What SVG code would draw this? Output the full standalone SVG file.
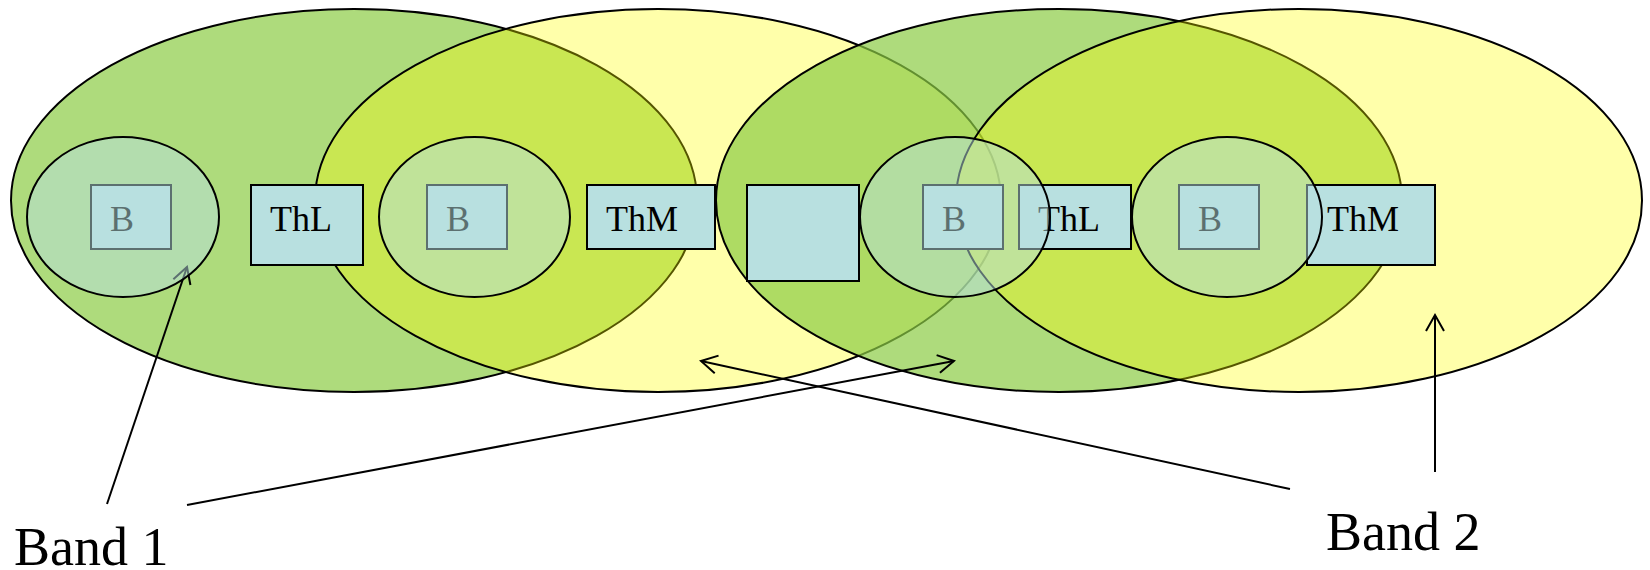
<svg xmlns="http://www.w3.org/2000/svg" width="1650" height="570" viewBox="0 0 1650 570">
<style>
.green{fill:#8ccc44;fill-opacity:0.7;stroke:#000;stroke-width:2}
.yellow{fill:#ffff00;fill-opacity:0.333;stroke:#000;stroke-width:2}
.box{fill:#b8e0e0;stroke:#000;stroke-width:2}
.circ{fill:#b8e0e0;fill-opacity:0.5;stroke:#000;stroke-width:2}
.lbl{font-family:"Liberation Serif","Times New Roman",serif;font-size:36px;fill:#000}
.band{font-family:"Liberation Serif","Times New Roman",serif;font-size:54px;fill:#000}
.conn{fill:none;stroke:#000;stroke-width:2}
</style>
<defs>
<marker id="arr" markerUnits="userSpaceOnUse" markerWidth="40" markerHeight="40" viewBox="-20 -20 40 40" refX="0" refY="0" orient="auto" overflow="visible">
<path d="M-16,-9 L0,0 L-16,9" fill="none" stroke="#000" stroke-width="2"/>
</marker>
</defs>
<g id="region-A"><ellipse class="green" cx="354" cy="200.5" rx="343" ry="191.5"/></g>
<g id="region-B"><ellipse class="yellow" cx="658" cy="200.5" rx="343" ry="191.5"/></g>
<g id="region-C"><ellipse class="green" cx="1059" cy="200.5" rx="343" ry="191.5"/></g>
<g id="region-D"><ellipse class="yellow" cx="1299" cy="200.5" rx="343" ry="191.5"/></g>

<g id="box-B1"><rect class="box" x="91" y="185" width="80" height="64"/><text class="lbl" x="110" y="231">B</text></g>
<g id="box-ThL1"><rect class="box" x="251" y="185" width="112" height="80"/><text class="lbl" x="270" y="231">ThL</text></g>
<g id="box-B2"><rect class="box" x="427" y="185" width="80" height="64"/><text class="lbl" x="446" y="231">B</text></g>
<g id="box-ThM1"><rect class="box" x="587" y="185" width="128" height="64"/><text class="lbl" x="606" y="231">ThM</text></g>
<g id="box-empty"><rect class="box" x="747" y="185" width="112" height="96"/></g>
<g id="box-B3"><rect class="box" x="923" y="185" width="80" height="64"/><text class="lbl" x="942" y="231">B</text></g>
<g id="box-ThL2"><rect class="box" x="1019" y="185" width="112" height="64"/><text class="lbl" x="1038" y="231">ThL</text></g>
<g id="box-B4"><rect class="box" x="1179" y="185" width="80" height="64"/><text class="lbl" x="1198" y="231">B</text></g>
<g id="box-ThM2"><rect class="box" x="1307" y="185" width="128" height="80"/><text class="lbl" x="1327" y="231">ThM</text></g>

<g id="connectors">
<line class="conn" x1="107" y1="504" x2="187" y2="267" marker-end="url(#arr)"/>
<line class="conn" x1="187" y1="505" x2="954" y2="361" marker-end="url(#arr)"/>
<line class="conn" x1="1290" y1="489" x2="701" y2="361" marker-end="url(#arr)"/>
<line class="conn" x1="1435" y1="472" x2="1435" y2="315" marker-end="url(#arr)"/>
</g>

<g id="circle-1"><ellipse class="circ" cx="123" cy="217" rx="96" ry="80"/></g>
<g id="circle-2"><ellipse class="circ" cx="474.5" cy="217" rx="95.5" ry="80"/></g>
<g id="circle-3"><ellipse class="circ" cx="955" cy="217" rx="95" ry="80"/></g>
<g id="circle-4"><ellipse class="circ" cx="1227" cy="217" rx="95" ry="80"/></g>

<g id="label-band1"><text class="band" x="14" y="565">Band 1</text></g>
<g id="label-band2"><text class="band" x="1326" y="550">Band 2</text></g>
</svg>
